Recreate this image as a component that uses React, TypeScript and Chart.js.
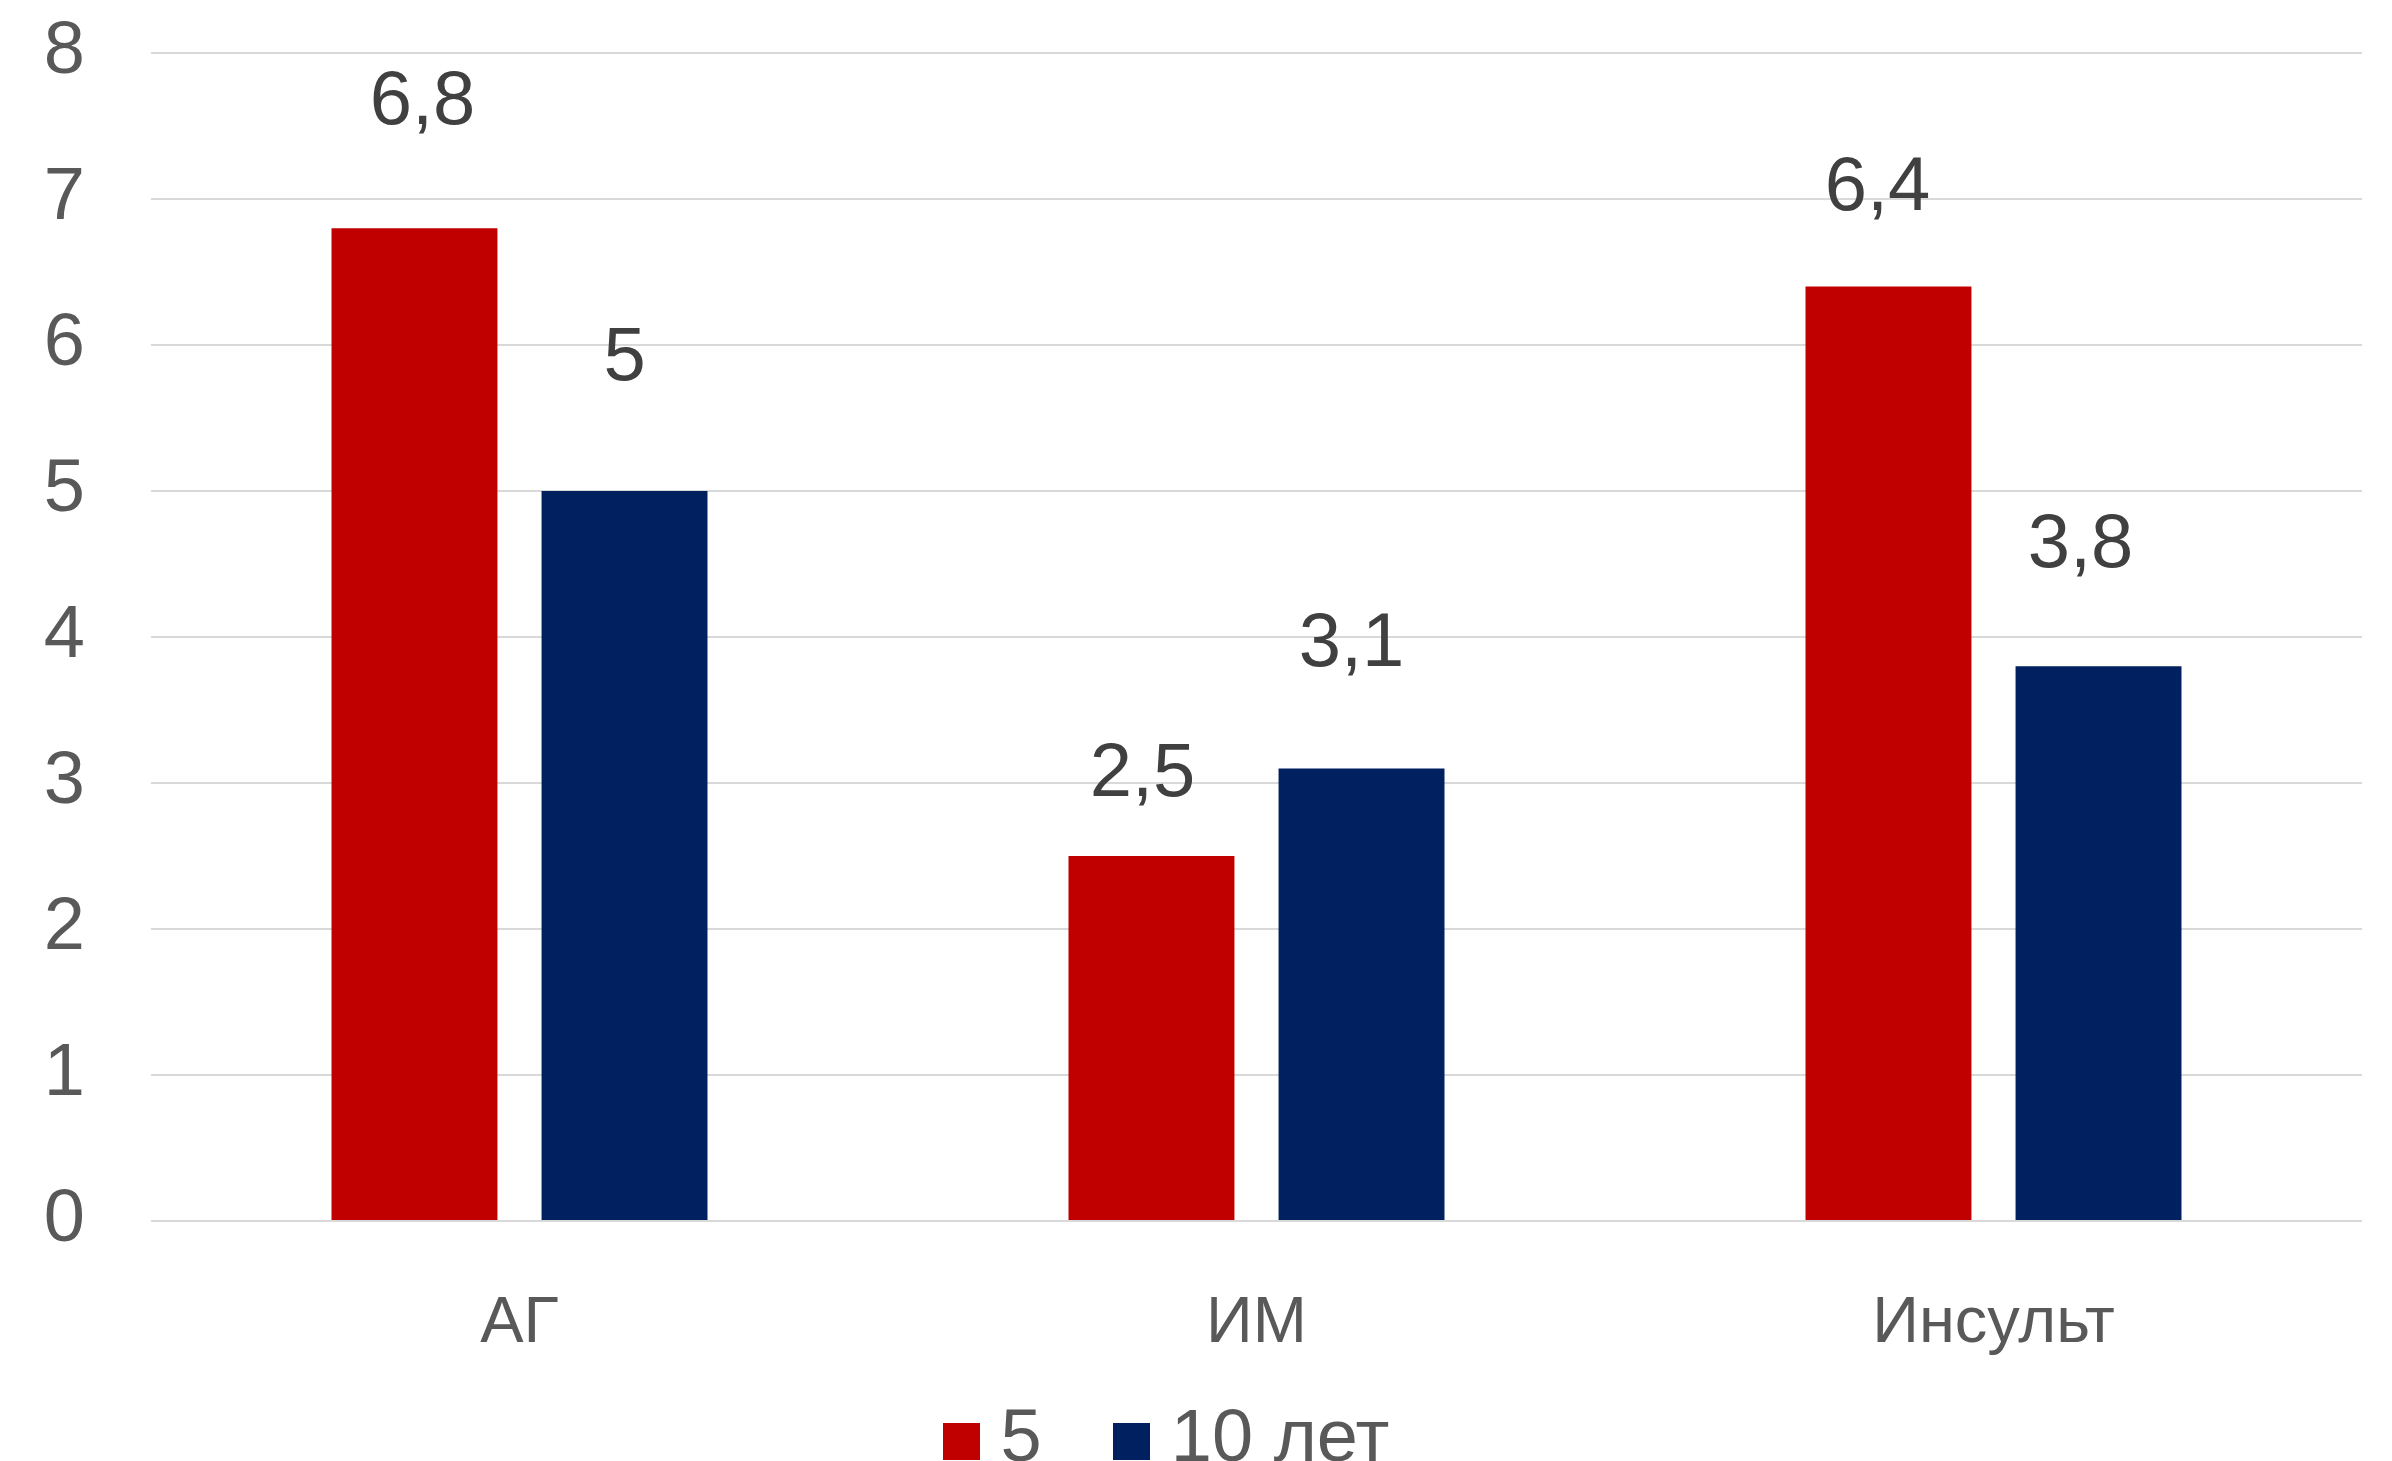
import React, { useEffect, useRef } from "react";
import { Chart, registerables } from "chart.js";

Chart.register(...registerables);

const categories = ["АГ", "ИМ", "Инсульт"];
const seriesNames = ["5", "10 лет"];
const series5 = [6.8, 2.5, 6.4];
const series10 = [5, 3.1, 3.8];
const yTicks = [0, 1, 2, 3, 4, 5, 6, 7, 8];

const colors = ["#C00000", "#002060"];
// value-label placement relative to each bar top (px): lift upwards, sideways shift
const labelLift = [
  [125, 81, 98],
  [132, 123, 120],
];
const labelShift = [
  [8, -9, -11],
  [0, -10, -18],
];

const FONT = "'Liberation Sans', Arial, sans-serif";
const W = 2392;
const H = 1488;
const LEGEND_BOX = 37;

function makeSwatch(color: string) {
  const c = document.createElement("canvas");
  c.width = LEGEND_BOX;
  c.height = LEGEND_BOX;
  const g = c.getContext("2d")!;
  g.fillStyle = color;
  g.fillRect(0, 0, LEGEND_BOX, LEGEND_BOX);
  return c;
}

const valueLabels = {
  id: "valueLabels",
  afterDatasetsDraw(chart: any) {
    const ctx = chart.ctx;
    ctx.save();
    ctx.font = `76px ${FONT}`;
    ctx.fillStyle = "#404040";
    ctx.textAlign = "center";
    ctx.textBaseline = "middle";
    chart.data.datasets.forEach((ds: any, di: number) => {
      const meta = chart.getDatasetMeta(di);
      meta.data.forEach((el: any, i: number) => {
        const v = ds.data[i];
        const txt = String(v).replace(".", ",");
        ctx.fillText(txt, el.x + labelShift[di][i], el.y - labelLift[di][i]);
      });
    });
    ctx.restore();
  },
};

// nudge the centred legend row slightly left; let x labels extend into legend padding
const layoutTweaks = {
  id: "layoutTweaks",
  afterLayout(chart: any) {
    if (chart.legend) chart.legend.right -= 14;
    const xs = chart.scales.x;
    if (xs) xs.bottom = xs.top + 140;
  },
};

export default function App() {
  const ref = useRef<HTMLCanvasElement>(null);
  useEffect(() => {
    if (!ref.current) return;
    const swatches = colors.map(makeSwatch);
    const chart = new Chart(ref.current, {
      type: "bar",
      data: {
        labels: categories,
        datasets: [
          {
            label: seriesNames[0],
            data: series5,
            backgroundColor: colors[0],
            categoryPercentage: 0.57,
            barPercentage: 0.79,
          },
          {
            label: seriesNames[1],
            data: series10,
            backgroundColor: colors[1],
            categoryPercentage: 0.57,
            barPercentage: 0.79,
          },
        ],
      },
      options: {
        responsive: false,
        animation: false,
        devicePixelRatio: 1,
        layout: { padding: { top: 53, right: 30, left: 0, bottom: 0 } },
        plugins: {
          legend: {
            position: "bottom",
            labels: {
              usePointStyle: true,
              pointStyleWidth: 5,
              boxHeight: LEGEND_BOX,
              padding: 87,
              color: "#595959",
              font: { family: FONT, size: 74 },
              generateLabels(chart: any) {
                const items = Chart.defaults.plugins.legend.labels.generateLabels(chart);
                return items.map((it: any, i: number) => ({
                  ...it,
                  pointStyle: swatches[i],
                }));
              },
            },
          },
          tooltip: { enabled: false },
        },
        scales: {
          x: {
            grid: { display: false, drawTicks: false },
            border: { display: false },
            ticks: {
              color: "#595959",
              font: { family: FONT, size: 65 },
              padding: 64,
            },
            afterFit(scale: any) {
              scale.height = 96;
            },
          },
          y: {
            min: 0,
            max: 8,
            afterBuildTicks(scale: any) {
              scale.ticks = yTicks.map((v) => ({ value: v }));
            },
            grid: { color: "#D9D9D9", lineWidth: 2, drawTicks: false },
            border: { display: false },
            ticks: {
              color: "#595959",
              font: { family: FONT, size: 74 },
              padding: 66,
            },
            afterFit(scale: any) {
              scale.width = 151;
              scale.paddingTop = 0;
              scale.paddingBottom = 0;
            },
          },
        },
      },
      plugins: [valueLabels, layoutTweaks],
    });
    return () => chart.destroy();
  }, []);
  return (
    <div
      style={{
        position: "fixed",
        left: 0,
        top: 0,
        width: W,
        height: 1461,
        overflow: "hidden",
        background: "#ffffff",
      }}
    >
      <canvas ref={ref} width={W} height={H} style={{ display: "block" }} />
    </div>
  );
}
